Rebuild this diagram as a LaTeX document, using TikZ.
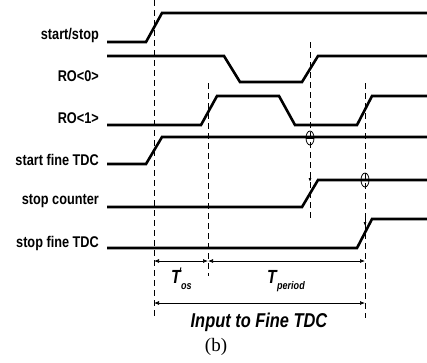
\documentclass[tikz,border=0pt]{standalone}
\usepackage{fontspec}
\setmainfont{Liberation Serif}
\newfontfamily\labfont[FakeStretch=0.82]{Liberation Sans}
\usetikzlibrary{arrows.meta}
\begin{document}
\begin{tikzpicture}[x=1pt,y=-1pt,
  sig/.style={line width=2.6pt,line join=miter},
  guide/.style={line width=0.8pt,dash pattern=on 6pt off 4pt},
  lab/.style={anchor=east,font=\labfont\bfseries\fontsize{15.5}{16}\selectfont,inner sep=0pt},
  dim/.style={line width=0.7pt,{Latex[length=5pt,width=4pt]}-{Latex[length=5pt,width=4pt]}},
  tlab/.style={font=\labfont\bfseries\itshape\fontsize{19}{19}\selectfont,inner sep=0pt},
  sub/.style={font=\labfont\bfseries\itshape\fontsize{11}{11}\selectfont,inner sep=0pt}]
\useasboundingbox (0,0) rectangle (427,362);
% labels
\node[lab] (l1) at (99,35) {start/stop};
\node[lab] (l2) at (99,76) {RO<0>};
\node[lab] (l3) at (99,118) {RO<1>};
\node[lab] (l4) at (99,160) {start fine TDC};
\node[lab] (l5) at (99,201) {stop counter};
\node[lab] (l6) at (99,243) {stop fine TDC};
% dashed guides
\coordinate (d1t) at (154,0);   \coordinate (d1b) at (154,318);
\coordinate (d2t) at (208,83);  \coordinate (d2b) at (208,276);
\coordinate (d3t) at (310,42);  \coordinate (d3b) at (310,220);
\coordinate (d4t) at (365,83);  \coordinate (d4b) at (365,318);
\draw[guide] (d1t) -- (d1b);
\draw[guide] (d2t) -- (d2b);
\draw[guide] (d3t) -- (d3b);
\draw[guide] (d4t) -- (d4b);
% signals
\draw[sig] (107,42) -- (146,42) -- (162,13) -- (427,13);
\draw[sig] (107,56) -- (224,56) -- (240,82) -- (302,82) -- (318,56) -- (427,56);
\draw[sig] (107,125) -- (201,125) -- (217,96) -- (279,96) -- (295,125) -- (357,125) -- (372,96) -- (427,96);
\draw[sig] (107,164) -- (146,164) -- (162,137) -- (427,137);
\draw[sig] (107,207) -- (302,207) -- (318,180) -- (427,180);
\draw[sig] (107,248) -- (357,248) -- (372,219) -- (427,219);
% circles
\draw[line width=0.8pt] (310,138) ellipse (4pt and 7pt);
\draw[line width=0.5pt] (306,138) -- (314,138);
\draw[line width=0.8pt] (365,180) ellipse (4pt and 7pt);
\draw[line width=0.5pt] (361,180) -- (369,180);
% small arrows
\coordinate (a1) at (310,182);
\coordinate (a2) at (365,226);
\draw[line width=0.7pt,-{Latex[length=4pt,width=3pt]}] (310,172) -- (a1);
\draw[line width=0.7pt,-{Latex[length=4pt,width=3pt]}] (365,216) -- (a2);
% dimension arrows
\coordinate (p1) at (154,261); \coordinate (p2) at (208,261); \coordinate (p3) at (365,261);
\coordinate (q1) at (154,303); \coordinate (q2) at (365,303);
\draw[dim] (p1) -- (p2);
\draw[dim] (p2) -- (p3);
\draw[dim] (q1) -- (q2);
\node[tlab,anchor=south west] (tos) at (171,284) {T};
\node[sub,anchor=north west] (tosp) at (179,268) {'};
\node[sub,anchor=base west] (toss) at (181,289) {os};
\node[tlab,anchor=south west] (tper) at (267,284) {T};
\node[sub,anchor=base west] (tpers) at (277,289) {period};
\node[font=\labfont\bfseries\itshape\fontsize{20}{20}\selectfont] (inp) at (259,322) {Input to Fine TDC};
\node[font=\fontsize{19}{19}\selectfont] (b) at (216,347) {(b)};
\end{tikzpicture}
\end{document}
